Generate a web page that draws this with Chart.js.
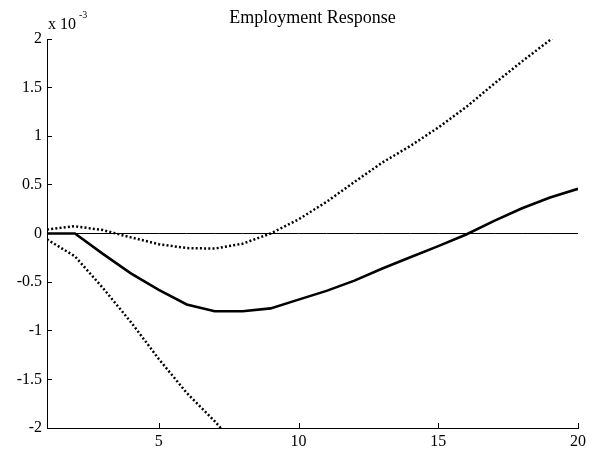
<!DOCTYPE html>
<html>
<head>
<meta charset="utf-8">
<script src="https://cdn.jsdelivr.net/npm/chart.js@4/dist/chart.umd.min.js"></script>
<style>
  body { margin: 0; background: #fff; }
  canvas { display: block; }
</style>
</head>
<body>
<canvas id="irf" width="591" height="452"></canvas>
<script>
// horizon (periods)
const steps = [1,2,3,4,5,6,7,8,9,10,11,12,13,14,15,16,17,18,19,20];
// response values, in units of 1e-3
const response = [0,0,-0.21,-0.41,-0.58,-0.73,-0.80,-0.80,-0.77,-0.68,-0.59,-0.485,-0.36,-0.245,-0.13,-0.01,0.13,0.26,0.37,0.46];
const upperBand = [0.04,0.075,0.035,-0.04,-0.11,-0.15,-0.155,-0.105,0.0,0.145,0.325,0.53,0.73,0.90,1.09,1.30,1.54,1.77,1.99,2.22];
const lowerBand = [-0.06,-0.235,-0.56,-0.91,-1.29,-1.64,-1.93,-2.25,-2.6,-2.95,-3.3,-3.6,-3.9,-4.2,-4.5,-4.8,-5.1,-5.4,-5.7,-6.0];
const zeroLine = steps.map(() => 0);
const xTicks = [5, 10, 15, 20];

const serif = "'Liberation Serif', 'Times New Roman', serif";

function pts(vals) {
    return steps.map((s, i) => ({ x: s, y: vals[i] }));
}

// title, exponent label and the inward tick marks (matlab style)
const matlabBits = {
    id: 'matlabBits',
    afterDraw(chart) {
        const ctx = chart.ctx;
        const xs = chart.scales.x, ys = chart.scales.y;
        const area = chart.chartArea;
        ctx.save();
        ctx.fillStyle = '#000';
        ctx.textBaseline = 'alphabetic';
        ctx.textAlign = 'center';
        ctx.font = '18px ' + serif;
        ctx.fillText('Employment Response', (area.left + area.right) / 2, 23);

        ctx.textAlign = 'left';
        ctx.font = '16px ' + serif;
        ctx.fillText('x 10', 48, 29);
        ctx.font = '10px ' + serif;
        ctx.fillText('-3', 79, 18);

        ctx.strokeStyle = '#000';
        ctx.lineWidth = 1;
        ctx.beginPath();
        xTicks.forEach(v => {
            const px = Math.round(xs.getPixelForValue(v)) + 0.5;
            ctx.moveTo(px, area.bottom);
            ctx.lineTo(px, area.bottom - 5);
        });
        ys.ticks.forEach(t => {
            const py = Math.floor(ys.getPixelForValue(t.value)) + 0.5;
            ctx.moveTo(area.left, py);
            ctx.lineTo(area.left + 5, py);
        });
        ctx.stroke();
        ctx.restore();
    }
};

new Chart(document.getElementById('irf'), {
    type: 'line',
    data: {
        datasets: [
            {
                // reference line at zero
                data: pts(zeroLine),
                borderColor: '#000',
                borderWidth: 1,
                pointRadius: 0
            },
            {
                data: pts(upperBand),
                borderColor: '#000',
                borderWidth: 2.5,
                borderDash: [2, 2.2],
                pointRadius: 0
            },
            {
                data: pts(response),
                borderColor: '#000',
                borderWidth: 2.6,
                pointRadius: 0
            },
            {
                data: pts(lowerBand),
                borderColor: '#000',
                borderWidth: 2.5,
                borderDash: [2, 2.2],
                pointRadius: 0
            }
        ]
    },
    options: {
        responsive: false,
        animation: false,
        layout: { padding: { top: 39, right: 13, left: 0, bottom: 0 } },
        plugins: {
            legend: { display: false },
            title: { display: false },
            tooltip: { enabled: false }
        },
        scales: {
            x: {
                type: 'linear',
                min: 1,
                max: 20,
                afterBuildTicks: (scale) => {
                    scale.ticks = xTicks.map(v => ({ value: v }));
                },
                afterFit: (scale) => { scale.height = 24; },
                grid: { display: false, drawTicks: false },
                border: { color: '#000', width: 1 },
                ticks: {
                    color: '#000',
                    font: { family: serif, size: 16 },
                    padding: 4,
                    maxRotation: 0,
                    callback: (v) => String(v)
                }
            },
            y: {
                min: -2,
                max: 2,
                afterFit: (scale) => { scale.width = 47; },
                grid: { display: false, drawTicks: false },
                border: { color: '#000', width: 1 },
                ticks: {
                    stepSize: 0.5,
                    color: '#000',
                    font: { family: serif, size: 16 },
                    padding: 5,
                    callback: (v) => String(v)
                }
            }
        }
    },
    plugins: [matlabBits]
});
</script>
</body>
</html>
